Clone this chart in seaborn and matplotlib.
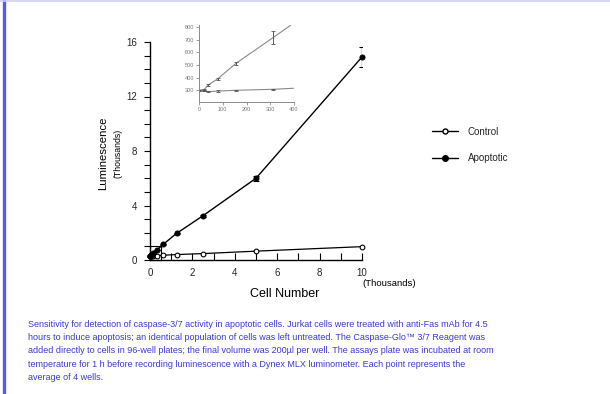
import numpy as np
import pandas as pd
import matplotlib
matplotlib.use("Agg")
import matplotlib.pyplot as plt
from matplotlib.lines import Line2D
from matplotlib.patches import Rectangle
import seaborn as sns

# ---- data ----
cells_k = [0, 0.0195, 0.039, 0.078, 0.156, 0.3125, 0.625, 1.25, 2.5, 5, 10]          # thousands of cells
apoptotic_k = [0.30, 0.30, 0.34, 0.39, 0.51, 0.72, 1.15, 1.95, 3.25, 6.0, 14.9]     # thousands RLU
apoptotic_err_k = [0, 0, 0, 0, 0, 0, 0.03, 0.05, 0.08, 0.2, 0.7]
control_k = [0.30, 0.30, 0.29, 0.29, 0.30, 0.31, 0.35, 0.40, 0.47, 0.65, 0.98]

inset_cells = [0, 20, 39, 78, 156, 313]
inset_apoptotic = [300, 302, 342, 389, 513, 717]
inset_apoptotic_err = [4, 6, 10, 10, 14, 52]
inset_control = [300, 302, 289, 294, 300, 308]
inset_control_err = [4, 4, 4, 5, 5, 6]
fit_x = [313, 385]
fit_apoptotic = [717, 812]
fit_cx = [313, 398]
fit_control = [308, 316]

y_ticks = [0, 4, 8, 12, 16]
x_ticks = [0, 2, 4, 6, 8, 10]
inset_yticks = [300, 400, 500, 600, 700, 800]
inset_xticks = [0, 100, 200, 300, 400]

caption = ("Sensitivity for detection of caspase-3/7 activity in apoptotic cells. Jurkat cells were treated with anti-Fas mAb for 4.5\n"
           "hours to induce apoptosis; an identical population of cells was left untreated. The Caspase-Glo\u2122 3/7 Reagent was\n"
           "added directly to cells in 96-well plates; the final volume was 200\u00b5l per well. The assays plate was incubated at room\n"
           "temperature for 1 h before recording luminescence with a Dynex MLX luminometer. Each point represents the\n"
           "average of 4 wells.")

sns.set_theme(style="ticks")
plt.rcParams['font.family'] = ['Liberation Sans', 'DejaVu Sans']

W, H = 610, 394
fig = plt.figure(figsize=(W / 100, H / 100), dpi=100)
fig.patch.set_facecolor("white")

def fx(px):
    return px / W
def fy(py):
    return 1 - py / H

# frame decorations
fig.add_artist(Line2D([fx(3.5), fx(3.5)], [0, 1], color="#5858f4", lw=2.4))
fig.add_artist(Line2D([0, 1], [fy(0.5), fy(0.5)], color="#d0d0f4", lw=1.2))

# ---- main axes ----
ax = fig.add_axes([fx(150), fy(260), fx(362) - fx(150), fy(42) - fy(260)])
df = pd.DataFrame({"cells": cells_k, "Apoptotic": apoptotic_k, "Control": control_k})

sns.lineplot(data=df, x="cells", y="Control", ax=ax, color="black", lw=0.9,
             marker="o", markersize=3.4, markerfacecolor="white", markeredgecolor="black",
             markeredgewidth=0.8, clip_on=False, zorder=3)
sns.lineplot(data=df, x="cells", y="Apoptotic", ax=ax, color="black", lw=1.0,
             marker="o", markersize=3.6, markerfacecolor="black", markeredgecolor="black",
             clip_on=False, zorder=4)
ax.errorbar(cells_k, apoptotic_k, yerr=apoptotic_err_k, fmt="none", ecolor="black",
            elinewidth=0.9, capsize=2.5, capthick=0.8, zorder=5)
ax.add_patch(Rectangle((0, 0), 0.5, 1.0, fill=False, ec="black", lw=0.8, zorder=2, clip_on=False))

ax.set_xlim(0, 10)
ax.set_ylim(0, 16)
ax.set_xticks(x_ticks)
ax.set_xticks(range(0, 11), minor=True)
ax.set_yticks(y_ticks)
ax.set_yticks(range(0, 17), minor=True)
ax.set_xticklabels([str(v) for v in x_ticks])
ax.set_yticklabels([str(v) for v in y_ticks])
ax.tick_params(axis="x", which="both", direction="in", length=5, width=0.8, labelsize=7, pad=6, color="black")
ax.tick_params(axis="y", which="both", direction="out", length=4, width=0.8, labelsize=7, pad=5, color="black")
for s in ["top", "right"]:
    ax.spines[s].set_visible(False)
for s in ["left", "bottom"]:
    ax.spines[s].set_color("black")
    ax.spines[s].set_linewidth(1.0)
ax.set_xlabel("")
ax.set_ylabel("")
ax.set_facecolor("white")

fig.text(fx(285), fy(294), "Cell Number", ha="center", va="center", fontsize=9, color="black")
fig.text(fx(389), fy(283), "(Thousands)", ha="center", va="center", fontsize=6.8, color="black")
fig.text(fx(103), fy(153), "Luminescence", ha="center", va="center", rotation=90, fontsize=8.2, color="black")
fig.text(fx(118), fy(153), "(Thousands)", ha="center", va="center", rotation=90, fontsize=6.3, color="black")

# legend
handles = [Line2D([], [], color="black", lw=1.0, marker="o", markersize=3.6,
                  markerfacecolor="white", markeredgecolor="black"),
           Line2D([], [], color="black", lw=1.0, marker="o", markersize=4,
                  markerfacecolor="black", markeredgecolor="black")]
fig.legend(handles, ["Control", "Apoptotic"], loc="upper left",
           bbox_to_anchor=(fx(427), fy(122)), frameon=False, fontsize=7,
           handlelength=2.7, handletextpad=1.0, labelspacing=1.7, borderpad=0)

# ---- inset ----
ins = fig.add_axes([fx(199), fy(101.7), fx(294) - fx(199), fy(25) - fy(101.7)])
grey = "#8a8a8a"
ins.plot(inset_cells, inset_apoptotic, color=grey, lw=0.8)
ins.plot(fit_x, fit_apoptotic, color=grey, lw=0.8)
ins.plot(inset_cells, inset_control, color=grey, lw=0.8)
ins.plot(fit_cx, fit_control, color=grey, lw=0.8)
ins.errorbar(inset_cells, inset_apoptotic, yerr=inset_apoptotic_err, fmt="none",
             ecolor="#555555", elinewidth=0.7, capsize=1.2, capthick=0.6)
ins.errorbar(inset_cells, inset_control, yerr=inset_control_err, fmt="none",
             ecolor="#555555", elinewidth=0.7, capsize=1.2, capthick=0.6)
ins.set_xlim(0, 400)
ins.set_ylim(210, 815)
ins.set_xticks(inset_xticks)
ins.set_yticks(inset_yticks)
ins.tick_params(labelsize=4, length=2, width=0.5, pad=1.5, colors="#777777")
for s in ["top", "right"]:
    ins.spines[s].set_visible(False)
for s in ["left", "bottom"]:
    ins.spines[s].set_color(grey)
    ins.spines[s].set_linewidth(0.7)
ins.patch.set_alpha(0)

# caption
fig.text(fx(28), fy(320), caption, ha="left", va="top", fontsize=6.5,
         color="#3b3bd0", linespacing=1.6)

fig.savefig("out.png", dpi=100, facecolor="white")
